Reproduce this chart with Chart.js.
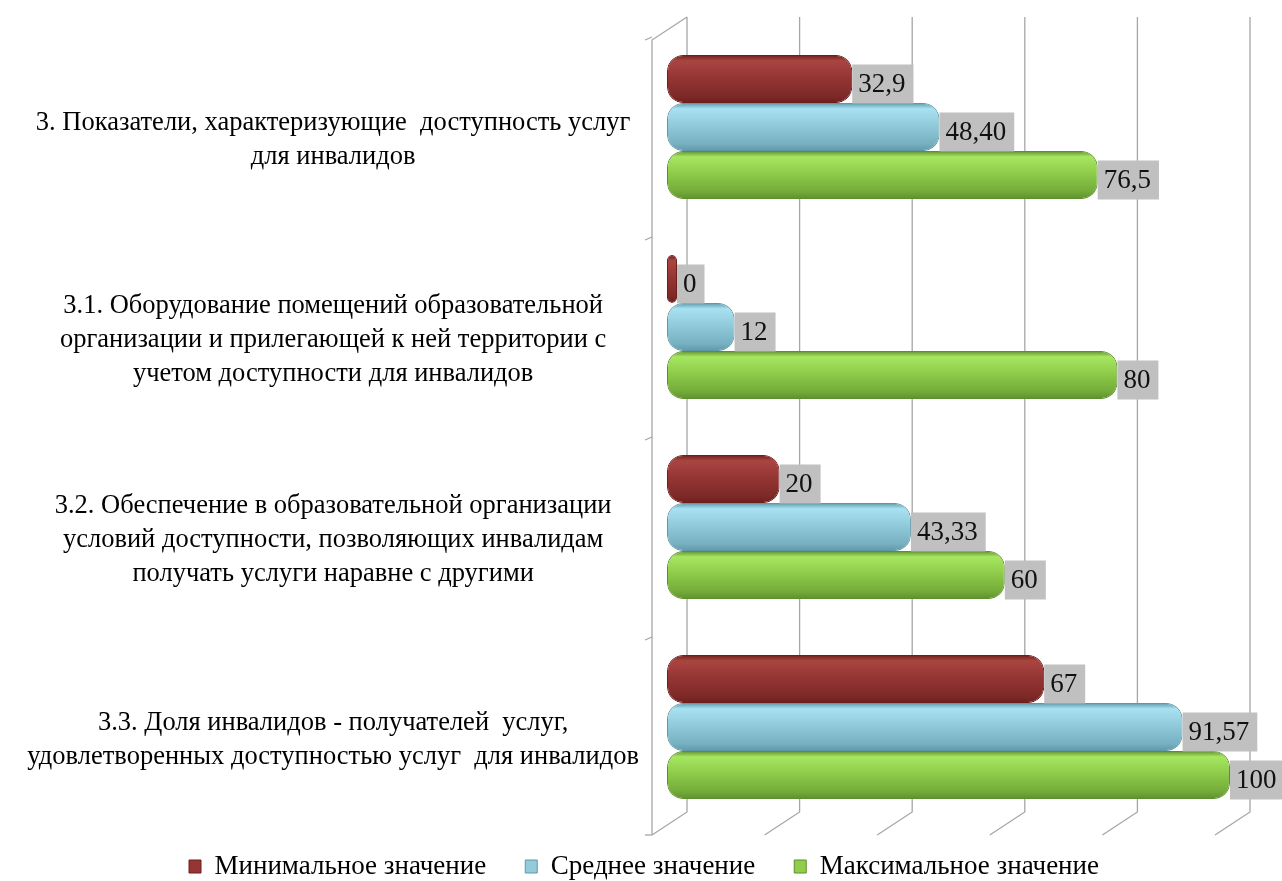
<!DOCTYPE html>
<html>
<head>
<meta charset="utf-8">
<script src="https://cdn.jsdelivr.net/npm/chart.js@4.4.1/dist/chart.umd.min.js"></script>
<style>
  html, body { margin: 0; padding: 0; background: #fff; }
  #wrap { width: 1282px; height: 881px; }
</style>
</head>
<body>
<div id="wrap"><canvas id="chart"></canvas></div>
<script>
// chart data
const categories = [
  ["3. Показатели, характеризующие  доступность услуг", "для инвалидов"],
  ["3.1. Оборудование помещений образовательной", "организации и прилегающей к ней территории с", "учетом доступности для инвалидов"],
  ["3.2. Обеспечение в образовательной организации", "условий доступности, позволяющих инвалидам", "получать услуги наравне с другими"],
  ["3.3. Доля инвалидов - получателей  услуг,", "удовлетворенных доступностью услуг  для инвалидов"]
];
const seriesNames = ["Минимальное значение", "Среднее значение", "Максимальное значение"];
const minValues = [32.9, 0, 20, 67];
const avgValues = [48.40, 12, 43.33, 91.57];
const maxValues = [76.5, 80, 60, 100];
const minLabels = ["32,9", "0", "20", "67"];
const avgLabels = ["48,40", "12", "43,33", "91,57"];
const maxLabels = ["76,5", "80", "60", "100"];
const xTicks = [0, 20, 40, 60, 80, 100];

const serif = "'Times New Roman', 'Liberation Serif', serif";
const valueLabels = [minLabels, avgLabels, maxLabels];
// [dark rim, light, main, shade]
const shades = [
  ["#6e1f1d", "#aa4541", "#963634", "#7e2a28"],
  ["#5f98a8", "#a8e2f2", "#92cbdb", "#77b0c0"],
  ["#5e8f2e", "#a6e660", "#8fcd4b", "#73ab38"]
];

// bars look like rounded tubes: swap in a vertical gradient per bar
const tubes = {
  id: "tubes",
  beforeDatasetsDraw(chart) {
    const c = chart.ctx;
    chart.data.datasets.forEach((ds, i) => {
      const s = shades[i];
      chart.getDatasetMeta(i).data.forEach(bar => {
        const top = bar.y - bar.height / 2, bot = bar.y + bar.height / 2;
        const g = c.createLinearGradient(0, top, 0, bot);
        g.addColorStop(0, s[0]);
        g.addColorStop(0.12, s[1]);
        g.addColorStop(0.45, s[2]);
        g.addColorStop(0.85, s[3]);
        g.addColorStop(1, s[0]);
        bar.options = Object.assign({}, bar.options, { backgroundColor: g });
      });
    });
  }
};

// back wall / floor lines of the 3d box
const box3d = {
  id: "box3d",
  beforeDatasetsDraw(chart) {
    const c = chart.ctx, x = chart.scales.x, y = chart.scales.y;
    const area = chart.chartArea;
    const dx = 20, dz = 15, rise = 23;
    const wallTop = area.top + 13, floor = area.bottom + 8;
    c.save();
    c.strokeStyle = "#a6a6a6";
    c.lineWidth = 1.3;
    xTicks.forEach(t => {
      const px = x.getPixelForValue(t);
      c.beginPath();
      c.moveTo(px + dx, wallTop - rise);
      c.lineTo(px + dx, floor - rise);
      c.lineTo(px - dz, floor);
      c.stroke();
    });
    // left wall
    const lx = x.getPixelForValue(0) - dz;
    c.beginPath();
    c.moveTo(lx + dz + dx, wallTop - rise);
    c.lineTo(lx, wallTop);
    c.lineTo(lx, floor);
    c.stroke();
    for (let i = 0; i <= categories.length; i++) {
      const py = y.getPixelForValue(i - 0.5) + 10;
      c.beginPath();
      c.moveTo(lx - 7, Math.min(py + 3, floor));
      c.lineTo(lx, Math.min(py, floor));
      c.stroke();
    }
    c.restore();
  }
};

const valueBoxes = {
  id: "valueBoxes",
  afterDatasetsDraw(chart) {
    const c = chart.ctx;
    c.save();
    c.font = "27px " + serif;
    c.textBaseline = "middle";
    chart.data.datasets.forEach((ds, i) => {
      chart.getDatasetMeta(i).data.forEach((bar, j) => {
        const txt = valueLabels[i][j];
        const w = c.measureText(txt).width + 14;
        const bx = bar.x, cy = bar.y + 5;
        c.fillStyle = "#c0c0c0";
        c.fillRect(bx, cy - 19.5, w, 39);
        c.fillStyle = "#111";
        c.fillText(txt, bx + 6, cy + 1);
      });
    });
    c.restore();
  }
};

// legend sits a bit lower/right than Chart.js puts it
const legendShift = {
  id: "legendShift",
  afterLayout(chart) {
    const lg = chart.legend;
    lg.top -= 13;
    lg.bottom -= 13;
    lg.left += 29;
    lg.right += 29;
  }
};

new Chart(document.getElementById("chart"), {
  type: "bar",
  data: {
    labels: categories,
    datasets: [
      { label: seriesNames[0], data: minValues, backgroundColor: "#963634", borderColor: "#6e1f1d" },
      { label: seriesNames[1], data: avgValues, backgroundColor: "#92cbdb", borderColor: "#5f98a8" },
      { label: seriesNames[2], data: maxValues, backgroundColor: "#8fcd4b", borderColor: "#5e8f2e" }
    ]
  },
  options: {
    indexAxis: "y",
    responsive: true,
    maintainAspectRatio: false,
    animation: false,
    datasets: {
      bar: {
        barPercentage: 1,
        categoryPercentage: 0.72,
        borderRadius: 16,
        borderSkipped: false,
        borderWidth: 1,
        minBarLength: 10
      }
    },
    layout: { padding: { top: 27, right: 52, bottom: -22, left: 0 } },
    plugins: {
      legend: {
        position: "bottom",
        labels: {
          color: "#000",
          font: { family: serif, size: 27 },
          boxWidth: 12,
          boxHeight: 13,
          padding: 39
        }
      },
      tooltip: { enabled: false }
    },
    scales: {
      x: {
        display: false,
        min: 0,
        max: 100
      },
      y: {
        grid: { display: false, drawTicks: false },
        border: { display: false },
        ticks: {
          color: "#000",
          font: { family: serif, size: 26.5, lineHeight: 1.28 },
          crossAlign: "center",
          padding: 28,
          labelOffset: 13
        },
        afterFit(scale) {
          scale.width = 667;
          scale.paddingTop = 0;
          scale.paddingBottom = 0;
        }
      }
    }
  },
  plugins: [tubes, box3d, valueBoxes, legendShift]
});
</script>
</body>
</html>
